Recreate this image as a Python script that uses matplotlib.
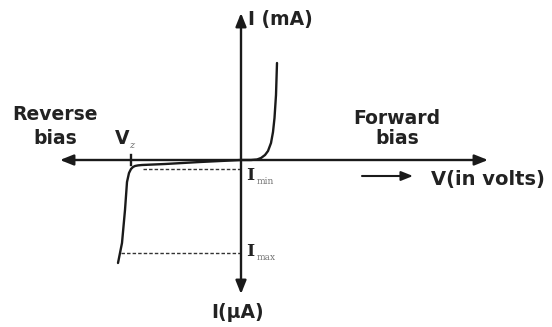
import matplotlib
matplotlib.use("Agg")
import matplotlib.pyplot as plt

# ---- data (diagram units: origin at axis crossing) ----
forward_v = [0, 10, 16, 20, 24, 27, 30, 32, 33.5, 35, 36]
forward_i = [0, 0, 0.5, 2, 5, 9, 17, 28, 42, 65, 97]

reverse_v = [0, -41, -76, -99, -103, -106, -108, -110, -112, -114, -116, -119, -121, -123]
reverse_i = [0, -2, -4, -5, -5.4, -6, -7, -9, -13, -22, -50, -83, -93, -103]

v_z = -110
i_min = -9
i_max = -93
i_min_x0 = -98
i_max_x0 = -120

x_axis = (-181, 247)
y_axis = (147, -134)

label_reverse = ["Reverse", "bias"]
label_forward = ["Forward", "bias"]
label_i_ma = "I (mA)"
label_i_ua = "I(µA)"
label_v = "V(in volts)"

fig = plt.figure(figsize=(5.52, 3.27), dpi=100)
ax = fig.add_axes([0, 0, 1, 1])
ax.set_xlim(-241, 311)
ax.set_ylim(-167, 160)
ax.axis("off")

lw = 1.7
col = "#1a1a1a"
arrow_kw = dict(arrowstyle="-|>,head_length=0.8,head_width=0.32", color=col, lw=lw,
                shrinkA=0, shrinkB=0)

# axes arrows
ax.annotate("", xy=(x_axis[0], 0), xytext=(0, 0), arrowprops=arrow_kw)
ax.annotate("", xy=(x_axis[1], 0), xytext=(0, 0), arrowprops=arrow_kw)
ax.annotate("", xy=(0, y_axis[0]), xytext=(0, 0), arrowprops=arrow_kw)
ax.annotate("", xy=(0, y_axis[1]), xytext=(0, 0), arrowprops=arrow_kw)

# curves
ax.plot(forward_v, forward_i, color=col, lw=lw, solid_capstyle="round")
ax.plot(reverse_v, reverse_i, color=col, lw=lw, solid_capstyle="round")

# dashed level lines
ax.plot([i_min_x0, 0], [i_min, i_min], color="#333333", lw=1.0, ls=(0, (2.5, 1.5)))
ax.plot([i_max_x0, 0], [i_max, i_max], color="#333333", lw=1.0, ls=(0, (2.5, 1.5)))

# Vz tick
ax.plot([v_z, v_z], [-5, 5], color=col, lw=lw)

# small arrow near V label
ax.annotate("", xy=(172, -16), xytext=(121, -16),
            arrowprops=dict(arrowstyle="-|>,head_length=0.7,head_width=0.28",
                            color=col, lw=1.5, shrinkA=0, shrinkB=0))

fs = 13.5
tk = dict(fontsize=fs, fontweight="bold", color="#222222", family="DejaVu Sans")
ax.text(-186, 45, label_reverse[0], ha="center", va="center", **tk)
ax.text(-186, 22, label_reverse[1], ha="center", va="center", **tk)
ax.text(156, 42, label_forward[0], ha="center", va="center", **tk)
ax.text(156, 22, label_forward[1], ha="center", va="center", **tk)
ax.text(7, 141, label_i_ma, ha="left", va="center", **tk)
ax.text(-3, -153, label_i_ua, ha="center", va="center", **tk)
ax.text(190, -19, label_v, ha="left", va="center",
        **{**tk, "fontsize": 14})

# V_z
ax.text(-119, 21, "V", ha="center", va="center", **tk)
ax.text(-109, 15, "z", ha="center", va="center", fontsize=7, style="italic",
        color="#666666", family="DejaVu Serif")

# I_min / I_max
ti = dict(fontsize=12.5, fontweight="bold", color="#222222", family="DejaVu Serif")
ts = dict(fontsize=6.5, color="#777777", family="DejaVu Serif")
ax.text(5, -16, "I", ha="left", va="center", **ti)
ax.text(16, -22, "min", ha="left", va="center", **ts)
ax.text(5, -92, "I", ha="left", va="center", **ti)
ax.text(16, -98, "max", ha="left", va="center", **ts)

fig.savefig("out.png", dpi=100, facecolor="white")
